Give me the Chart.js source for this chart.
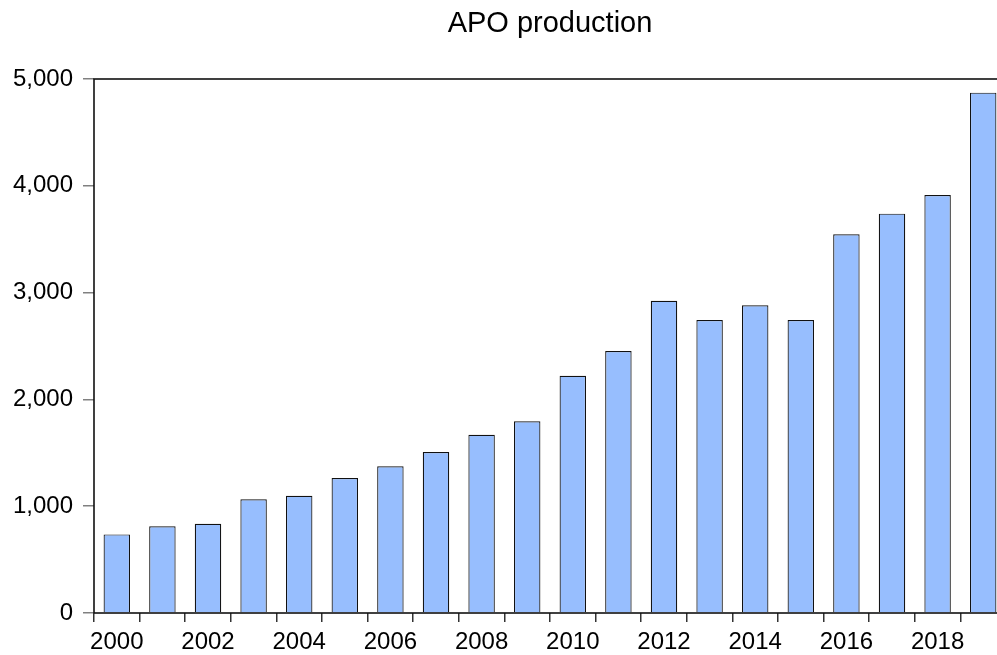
<!DOCTYPE html>
<html>
<head>
<meta charset="utf-8">
<script src="https://cdn.jsdelivr.net/npm/chart.js@4/dist/chart.umd.min.js"></script>
<style>
  html, body { margin: 0; padding: 0; background: #fff; overflow: hidden; }
  #wrap { width: 1010px; height: 655px; }
  canvas { display: block; }
</style>
</head>
<body>
<div id="wrap"><canvas id="apoChart" width="1010" height="655"></canvas></div>
<script>
// APO production, 2000-2019
const years = ["2000", "2001", "2002", "2003", "2004", "2005", "2006", "2007", "2008", "2009",
               "2010", "2011", "2012", "2013", "2014", "2015", "2016", "2017", "2018", "2019"];
const production = [736, 812, 836, 1065, 1098, 1264, 1373, 1507, 1669, 1795,
                    2222, 2453, 2924, 2743, 2881, 2743, 3546, 3739, 3914, 4872];
const yTicks = [0, 1000, 2000, 3000, 4000, 5000];

// рамка вокруг области графика + заголовок по центру области
const frame = {
  id: "frame",
  afterLayout(chart) {
    const t = chart.titleBlock, a = chart.chartArea;
    if (t) {
      t.left = a.left;
      t.right = a.right;
      t.width = a.right - a.left;
    }
  },
  afterDraw(chart) {
    const { ctx, chartArea: a } = chart;
    ctx.save();
    ctx.strokeStyle = "#111";
    ctx.lineWidth = 1.6;
    ctx.strokeRect(a.left, a.top, a.right - a.left, a.bottom - a.top);
    ctx.restore();
  }
};

const font = { family: "'Liberation Sans', Arial, sans-serif", size: 24 };

new Chart(document.getElementById("apoChart").getContext("2d"), {
  type: "bar",
  data: {
    labels: years,
    datasets: [{
      label: "APO production",
      data: production,
      backgroundColor: "#97BEFE",
      borderColor: "#111",
      borderWidth: 1.2,
      barPercentage: 0.58,
      categoryPercentage: 1
    }]
  },
  options: {
    responsive: false,
    animation: false,
    layout: { padding: { left: 0, right: 4, top: 0, bottom: 0 } },
    plugins: {
      legend: { display: false },
      tooltip: { enabled: false },
      title: {
        display: true,
        text: "APO production",
        color: "#000",
        font: { family: font.family, size: 29, weight: "normal" },
        padding: { top: 7, bottom: 37.2 }
      }
    },
    scales: {
      x: {
        offset: true,
        border: { display: false },
        afterFit: s => { s.height = 42; },
        grid: { offset: true, drawOnChartArea: false, drawTicks: true, tickLength: 9, color: "#333", lineWidth: 1.5 },
        ticks: {
          autoSkip: false,
          maxRotation: 0,
          color: "#000",
          font: font,
          padding: 6,
          callback: (v, i) => (Number(years[i]) % 2 === 0 ? years[i] : "")
        }
      },
      y: {
        min: 0,
        max: 5000,
        border: { display: false },
        afterFit: s => { s.width = 94; },
        afterBuildTicks: s => { s.ticks = yTicks.map(v => ({ value: v })); },
        grid: { drawOnChartArea: false, drawTicks: true, tickLength: 11, color: "#808080", lineWidth: 1.5 },
        ticks: {
          color: "#000",
          font: font,
          padding: 10,
          callback: v => v.toLocaleString("en-US")
        }
      }
    }
  },
  plugins: [frame]
});
</script>
</body>
</html>
